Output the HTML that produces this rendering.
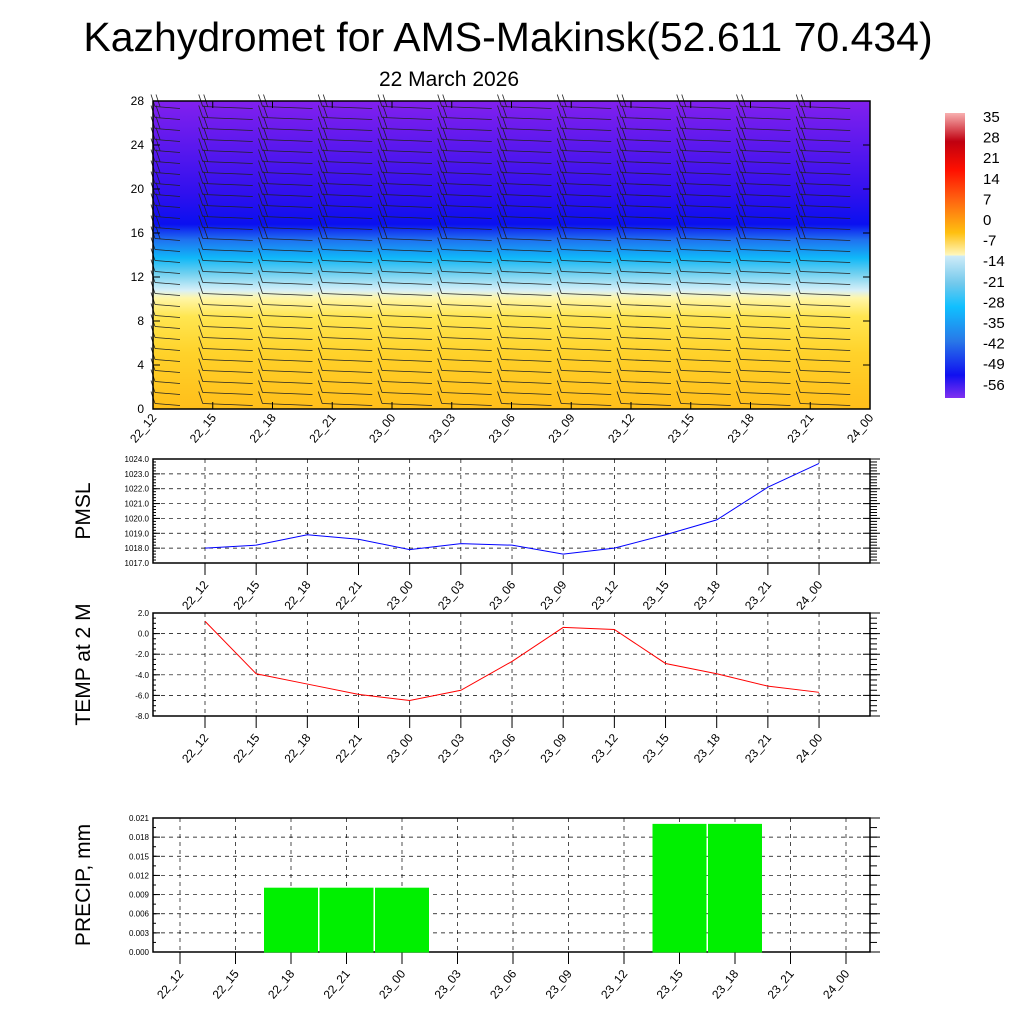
<!DOCTYPE html>
<html><head><meta charset="utf-8"><style>
body{margin:0;background:#fff;}
svg{display:block;font-family:"Liberation Sans",sans-serif;}
</style></head><body>
<svg id="c" width="1024" height="1024" viewBox="0 0 1024 1024">
<defs>
<linearGradient id="tg" x1="0" y1="1" x2="0" y2="0">
<stop offset="0" stop-color="#ffbe1a"/>
<stop offset="0.18" stop-color="#ffd22a"/>
<stop offset="0.3" stop-color="#ffe650"/>
<stop offset="0.36" stop-color="#fff6a8"/>
<stop offset="0.385" stop-color="#d8f0f8"/>
<stop offset="0.44" stop-color="#70d0f0"/>
<stop offset="0.49" stop-color="#10b8f8"/>
<stop offset="0.55" stop-color="#2070f0"/>
<stop offset="0.6" stop-color="#0a10f0"/>
<stop offset="0.7" stop-color="#3010ee"/>
<stop offset="0.85" stop-color="#5a18ee"/>
<stop offset="1" stop-color="#8220ee"/>
</linearGradient>
<linearGradient id="cb" x1="0" y1="0" x2="0" y2="1">
<stop offset="0" stop-color="#f8b0b0"/>
<stop offset="0.1" stop-color="#c00010"/>
<stop offset="0.2" stop-color="#ff1000"/>
<stop offset="0.3" stop-color="#ff6010"/>
<stop offset="0.42" stop-color="#ffc010"/>
<stop offset="0.5" stop-color="#fff8c0"/>
<stop offset="0.5" stop-color="#d0ecf8"/>
<stop offset="0.6" stop-color="#70c8ec"/>
<stop offset="0.68" stop-color="#10c0ff"/>
<stop offset="0.8" stop-color="#2878e8"/>
<stop offset="0.92" stop-color="#1010f0"/>
<stop offset="1" stop-color="#8030f0"/>
</linearGradient>
</defs>
<text x="508" y="51" font-size="41" text-anchor="middle">Kazhydromet for AMS-Makinsk(52.611 70.434)</text>
<text x="449" y="86" font-size="21" text-anchor="middle">22 March 2026</text>
<rect x="153" y="101" width="717" height="308" fill="url(#tg)"/>
<g id="barbs"></g>
<rect x="153" y="101" width="717" height="308" fill="none" stroke="#000" stroke-width="1.5"/>
<g id="topax"></g>
<rect x="945" y="113" width="20" height="285" fill="url(#cb)"/>
<g id="cbl"></g>
<g id="pmsl"></g>
<g id="temp"></g>
<g id="prec"></g>
</svg>
<script>
const cats=["22_12","22_15","22_18","22_21","23_00","23_03","23_06","23_09","23_12","23_15","23_18","23_21","24_00"];
const pmsl=[1018.0,1018.2,1018.9,1018.6,1017.9,1018.3,1018.2,1017.6,1018.0,1018.9,1019.9,1022.1,1023.7];
const temp=[1.2,-3.9,-4.9,-5.9,-6.5,-5.5,-2.7,0.6,0.4,-2.9,-3.9,-5.1,-5.7];
const precip=[0,0,0.01,0.01,0.01,0,0,0,0,0.02,0.02,0,0];
const heightTicks=[0,4,8,12,16,20,24,28];
const cbLabels=["35","28","21","14","7","0","-7","-14","-21","-28","-35","-42","-49","-56"];
const pmslTicks=[1017,1018,1019,1020,1021,1022,1023,1024];
const tempTicks=[-8,-6,-4,-2,0,2];
const precTicks=[0,0.003,0.006,0.009,0.012,0.015,0.018,0.021];
const NS="http://www.w3.org/2000/svg";
function mk(p,t,a,txt){const e=document.createElementNS(NS,t);for(const k in a)e.setAttribute(k,a[k]);if(txt!==undefined)e.textContent=txt;p.appendChild(e);return e;}
const topAx=document.getElementById('topax');
const tx=i=>153+i*(717/12), ty=v=>409-v/28*308;
heightTicks.forEach(v=>{const y=ty(v);
 mk(topAx,'line',{x1:153,x2:160,y1:y,y2:y,stroke:'#000'});mk(topAx,'line',{x1:863,x2:870,y1:y,y2:y,stroke:'#000'});
 const t=mk(topAx,'text',{x:144,y:y+4,'font-size':12,'text-anchor':'end'},v);
 
 });
cats.forEach((c,i)=>{const x=tx(i);
 mk(topAx,'line',{x1:x,x2:x,y1:409,y2:402,stroke:'#000'});mk(topAx,'line',{x1:x,x2:x,y1:101,y2:108,stroke:'#000'});
 const t=mk(topAx,'text',{x:x+4,y:418,'font-size':12,'text-anchor':'end',transform:`rotate(-50 ${x+4} 418)`},c);
 
 });
const bg=document.getElementById('barbs');
for(let i=0;i<12;i++){for(let k=0;k<28;k++){const x=tx(i)+(i==0?0:-12)+2;const y=ty(k+0.5);
 const len=i==0?25:50;
 mk(bg,'line',{x1:x,y1:y,x2:x+len,y2:y+2,stroke:'#222','stroke-width':0.8});
 mk(bg,'line',{x1:x,y1:y,x2:x-4,y2:y-12,stroke:'#222','stroke-width':0.8});
 if(k>14){mk(bg,'line',{x1:x+5,y1:y,x2:x+1,y2:y-12,stroke:'#222','stroke-width':0.8});}
}}
const cbl=document.getElementById('cbl');
cbLabels.forEach((l,i)=>{const t=mk(cbl,'text',{x:983,y:122+i*20.6,'font-size':15},l);
 
 });
function panel(id,y0,y1,x0,dx,ticks,fmt,ylab,minorN){
 const g=document.getElementById(id);
 const lo=ticks[0],hi=ticks[ticks.length-1];
 const Y=v=>y1-(v-lo)/(hi-lo)*(y1-y0);
 const X=i=>x0+i*dx;
 ticks.forEach(v=>{const y=Y(v);
  mk(g,'line',{x1:153,x2:870,y1:y,y2:y,stroke:'#000','stroke-dasharray':'4,4','stroke-width':0.7});
  mk(g,'line',{x1:153,x2:160,y1:y,y2:y,stroke:'#000'});mk(g,'line',{x1:863,x2:880,y1:y,y2:y,stroke:'#000'});
  const t=mk(g,'text',{x:149,y:y+3,'font-size':8,'text-anchor':'end'},fmt(v));
  
  });
 for(let j=0;j<(ticks.length-1)*minorN;j++){const y=y1-j*(y1-y0)/((ticks.length-1)*minorN);
  mk(g,'line',{x1:153,x2:156,y1:y,y2:y,stroke:'#000'});mk(g,'line',{x1:870,x2:877,y1:y,y2:y,stroke:'#000'});}
 cats.forEach((c,i)=>{const x=X(i);
  mk(g,'line',{x1:x,x2:x,y1:y0,y2:y1,stroke:'#000','stroke-dasharray':'4,4','stroke-width':0.7});
  mk(g,'line',{x1:x,x2:x,y1:y1,y2:y1+12,stroke:'#000'});
  const t=mk(g,'text',{x:x+4,y:y1+22,'font-size':12,'text-anchor':'end',transform:`rotate(-50 ${x+4} ${y1+22})`},c);
  
  });
 mk(g,'rect',{x:153,y:y0,width:717,height:y1-y0,fill:'none',stroke:'#000','stroke-width':1.5});
 const yl=mk(g,'text',{x:0,y:0,'font-size':21,'text-anchor':'middle',transform:`translate(90 ${(y0+y1)/2}) rotate(-90)`},ylab);
 
 
 return {g,X,Y};
}
let p=panel('pmsl',459,563,205,51.17,pmslTicks,v=>v.toFixed(1),'PMSL',5);
const pl=mk(p.g,'polyline',{points:pmsl.map((v,i)=>p.X(i)+','+p.Y(v)).join(' '),fill:'none',stroke:'#0000ff','stroke-width':1});


p=panel('temp',613,716,205,51.17,tempTicks,v=>v.toFixed(1),'TEMP at 2 M',4);
const tl=mk(p.g,'polyline',{points:temp.map((v,i)=>p.X(i)+','+p.Y(v)).join(' '),fill:'none',stroke:'#ff0000','stroke-width':1});


p=panel('prec',818,952,180,55.5,precTicks,v=>v.toFixed(3),'PRECIP, mm',2);
precip.forEach((v,i)=>{if(v<=0)return;const y=p.Y(v);
 const b=mk(p.g,'rect',{x:p.X(i)-26.5,y:y,width:53,height:952-y,fill:'#00f000',stroke:'#00f000'});
 
 });
</script>
</body></html>
